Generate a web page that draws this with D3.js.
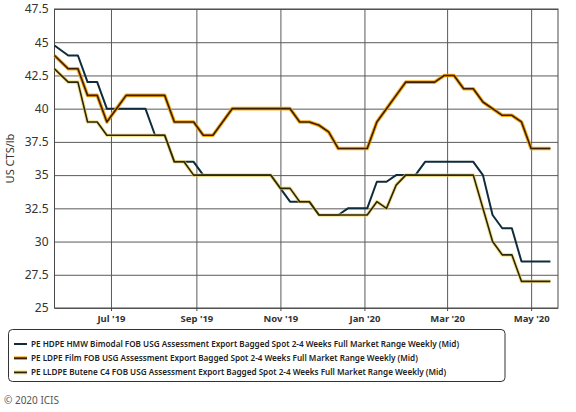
<!DOCTYPE html>
<html>
<head>
<meta charset="utf-8">
<script src="https://cdn.jsdelivr.net/npm/d3@7"></script>
<style>
  body { margin: 0; background: #fff; }
  svg { display: block; font-family: 'Noto Sans', sans-serif; }
</style>
</head>
<body>
<svg width="576" height="412"></svg>
<script>
// weekly assessment dates
var dates = [
  '2019-05-21', '2019-05-31', '2019-06-07', '2019-06-14', '2019-06-21', '2019-06-28',
  '2019-07-05', '2019-07-12', '2019-07-19', '2019-07-26', '2019-08-02', '2019-08-09',
  '2019-08-16', '2019-08-23', '2019-08-30', '2019-09-06', '2019-09-13', '2019-09-20',
  '2019-09-27', '2019-10-04', '2019-10-11', '2019-10-18', '2019-10-25', '2019-11-01',
  '2019-11-08', '2019-11-15', '2019-11-22', '2019-11-29', '2019-12-06', '2019-12-13',
  '2019-12-20', '2019-12-27', '2020-01-03', '2020-01-10', '2020-01-17', '2020-01-24',
  '2020-01-31', '2020-02-07', '2020-02-14', '2020-02-21', '2020-02-28', '2020-03-06',
  '2020-03-13', '2020-03-20', '2020-03-27', '2020-04-03', '2020-04-10', '2020-04-17',
  '2020-04-24', '2020-05-01', '2020-05-08', '2020-05-15'
]

var hdpe = [
  44.75, 44, 44, 42, 42, 40, 40, 40, 40, 40, 38, 38,
  36, 36, 36, 35, 35, 35, 35, 35, 35, 35, 35, 34,
  33, 33, 33, 32, 32, 32, 32.5, 32.5, 32.5, 34.5, 34.5, 35,
  35, 35, 36, 36, 36, 36, 36, 36, 35, 32, 31, 31,
  28.5, 28.5, 28.5, 28.5
]

var ldpe = [
  44, 43, 43, 41, 41, 39, 40, 41, 41, 41, 41, 41,
  39, 39, 39, 38, 38, 39, 40, 40, 40, 40, 40, 40,
  40, 39, 39, 38.75, 38.25, 37, 37, 37, 37, 39, 40, 41,
  42, 42, 42, 42, 42.5, 42.5, 41.5, 41.5, 40.5, 40, 39.5, 39.5,
  39, 37, 37, 37
]

var lldpe = [
  43, 42, 42, 39, 39, 38, 38, 38, 38, 38, 38, 38,
  36, 36, 35, 35, 35, 35, 35, 35, 35, 35, 35, 34,
  34, 33, 33, 32, 32, 32, 32, 32, 32, 33, 32.5, 34.25,
  35, 35, 35, 35, 35, 35, 35, 35, 32.5, 30, 29, 29,
  27, 27, 27, 27
]

var seriesNames = [
  'PE HDPE HMW Bimodal FOB USG Assessment Export Bagged Spot 2-4 Weeks Full Market Range Weekly (Mid)',
  'PE LDPE Film FOB USG Assessment Export Bagged Spot 2-4 Weeks Full Market Range Weekly (Mid)',
  'PE LLDPE Butene C4 FOB USG Assessment Export Bagged Spot 2-4 Weeks Full Market Range Weekly (Mid)'
]

var yTicks = [25, 27.5, 30, 32.5, 35, 37.5, 40, 42.5, 45, 47.5]

// halo colour + core colour for each line
var halos = [null, '#f5a000', '#eccb4a']
var cores = ['#0e2c3a', '#3a1f00', '#2a2708']

var svg = d3.select('svg')
var margin = { top: 9, right: 18, bottom: 104, left: 54.5 }
var width = 576 - margin.left - margin.right
var height = 412 - margin.top - margin.bottom

var parse = d3.timeParse('%Y-%m-%d')
var xDates = dates.map(parse)

var x = d3.scaleTime()
    .domain([new Date(2019, 4, 21), new Date(2020, 4, 20, 12)])
    .range([0, width])

var y = d3.scaleLinear()
    .domain([25, 47.5])
    .range([height, 0])

var g = svg.append('g')
    .attr('transform', 'translate(' + margin.left + ',' + margin.top + ')')

// horizontal grid
g.append('g')
    .call(d3.axisLeft(y).tickValues(yTicks).tickSize(-width).tickFormat(''))
    .call(function (s) { s.select('.domain').remove() })
    .selectAll('line').attr('stroke', '#5a5a5a')

// vertical grid
g.append('g')
    .attr('transform', 'translate(0,' + height + ')')
    .call(d3.axisBottom(x).ticks(d3.timeMonth.every(2)).tickSize(-height).tickFormat(''))
    .call(function (s) { s.select('.domain').remove() })
    .selectAll('line').attr('stroke', '#5a5a5a')

// frame
g.append('rect')
    .attr('width', width)
    .attr('height', height)
    .attr('fill', 'none')
    .attr('stroke', '#4a4a4a')

// y tick labels
g.append('g')
    .call(d3.axisLeft(y).tickValues(yTicks).tickSize(0).tickPadding(6)
      .tickFormat(function (d) { return String(d) }))
    .call(function (s) { s.select('.domain').remove() })
    .selectAll('text')
    .attr('font-family', 'Noto Sans')
    .attr('font-size', 12)
    .attr('fill', '#333')

// x tick labels
g.append('g')
    .attr('transform', 'translate(0,' + height + ')')
    .call(d3.axisBottom(x).ticks(d3.timeMonth.every(2)).tickSize(3).tickPadding(4)
      .tickFormat(d3.timeFormat("%b '%y")))
    .call(function (s) { s.select('.domain').remove() })
    .call(function (s) { s.selectAll('line').attr('stroke', '#4a4a4a') })
    .selectAll('text')
    .attr('font-family', 'Noto Sans')
    .attr('font-weight', 'bold')
    .attr('font-size', 9.5)
    .attr('fill', '#333')

// y axis title
svg.append('text')
    .attr('transform', 'translate(14,' + (margin.top + height / 2) + ') rotate(-90)')
    .attr('text-anchor', 'middle')
    .attr('font-size', 11)
    .attr('fill', '#333')
    .text('US CTS/lb')

var line = d3.line()
    .x(function (d, i) { return x(xDates[i]) })
    .y(function (d) { return y(d) })

var allSeries = [hdpe, ldpe, lldpe]

allSeries.forEach(function (s, k) {
  if (halos[k]) {
    g.append('path')
      .datum(s)
      .attr('d', line)
      .attr('fill', 'none')
      .attr('stroke', halos[k])
      .attr('stroke-opacity', k === 1 ? 0.9 : 0.6)
      .attr('stroke-width', 3.6)
      .attr('stroke-linejoin', 'round')
  }
  g.append('path')
    .datum(s)
    .attr('d', line)
    .attr('fill', 'none')
    .attr('stroke', cores[k])
    .attr('stroke-width', k === 0 ? 2 : 1.6)
    .attr('stroke-linejoin', 'round')
})

// legend
var legend = svg.append('g')
legend.append('rect')
    .attr('x', 8.5)
    .attr('y', 329.5)
    .attr('width', 496.5)
    .attr('height', 52)
    .attr('rx', 4)
    .attr('fill', '#fff')
    .attr('stroke', '#333')

var item = legend.selectAll('g.item')
    .data(seriesNames)
  .enter().append('g')
    .attr('class', 'item')
    .attr('transform', function (d, i) { return 'translate(0,' + (344 + i * 14.2) + ')' })

item.each(function (d, i) {
  var it = d3.select(this)
  if (halos[i]) {
    it.append('line').attr('x1', 14).attr('x2', 27)
      .attr('stroke', halos[i]).attr('stroke-width', 3.6)
  }
  it.append('line').attr('x1', 14).attr('x2', 27)
    .attr('stroke', cores[i]).attr('stroke-width', i === 0 ? 2 : 1.6)
})

var legendText = item.append('text')
    .attr('x', 31)
    .attr('dy', '0.35em')
    .attr('font-size', 10)
    .attr('font-weight', 600)
    .attr('fill', '#222')
    .text(function (d) { return d })

// shrink the font so the longest entry ends where the reference's does
var longest = d3.max(legendText.nodes(), function (n) { return n.getComputedTextLength() })
var fs = Math.min(10, 10 * 429 / longest)
legendText.attr('font-size', fs)

svg.append('text')
    .attr('x', 4)
    .attr('y', 404)
    .attr('font-size', 10)
    .attr('fill', '#555')
    .text('\u00a9 2020 ICIS')
</script>
</body>
</html>
